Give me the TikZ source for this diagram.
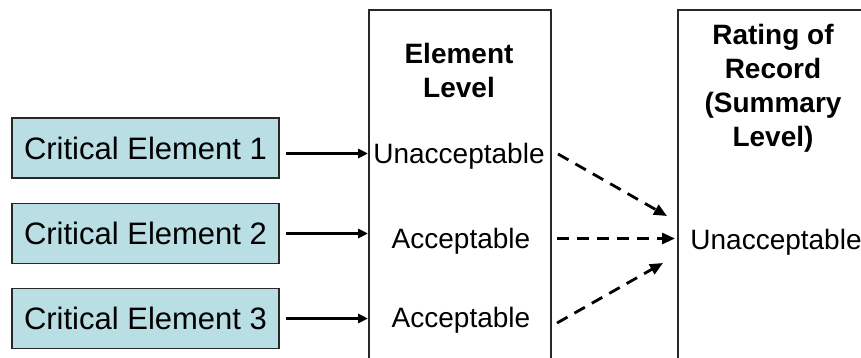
\documentclass[tikz,border=0pt]{standalone}
\usepackage{fontspec}
\setmainfont{Liberation Sans}
\usetikzlibrary{arrows.meta}
\definecolor{cefill}{RGB}{185,222,228}
\definecolor{edgegray}{RGB}{40,40,40}
\begin{document}
\begin{tikzpicture}[x=1pt,y=-1pt,
  cebox/.style={draw=edgegray, line width=1.6pt, fill=cefill, minimum width=267pt,
    minimum height=60pt, inner sep=0pt, font=\fontsize{31}{37}\selectfont},
  colbox/.style={draw=edgegray, line width=1.6pt, inner sep=0pt, anchor=north west},
  lbl/.style={inner sep=0pt, font=\fontsize{28}{34}\selectfont, anchor=base},
  ttl/.style={inner sep=0pt, font=\bfseries\fontsize{28}{34}\selectfont, anchor=north, align=center},
  solidarr/.style={-{Triangle[length=10pt,width=9pt]}, line width=2.6pt},
  dasharr/.style={-{Triangle[length=13pt,width=11pt]}, line width=2.8pt, dash pattern=on 12pt off 8pt}]
\path[use as bounding box, clip] (0,0) rectangle (861,358);
\fill[white] (0,0) rectangle (861,358);
% columns
\node[colbox, minimum width=182pt, minimum height=400pt] (elem) at (368,9) {};
\node[colbox, minimum width=250pt, minimum height=400pt] (rec) at (677,9) {};
% titles
\node[ttl] (elemttl) at (459,43) {Element\\Level};
\node[ttl] (recttl) at (773,24) {Rating of\\Record\\(Summary\\Level)};
% critical elements
\node[cebox] (ce1) at (145.5,148) {Critical Element 1};
\node[cebox] (ce2) at (145.5,233.5) {Critical Element 2};
\node[cebox] (ce3) at (145.5,318.5) {Critical Element 3};
% element level ratings
\node[lbl] (u1) at (459,164) {Unacceptable};
\node[lbl] (a2) at (461,248) {Acceptable};
\node[lbl] (a3) at (461,327) {Acceptable};
% summary rating
\node[lbl] (rr) at (776,249) {Unacceptable};
% solid arrows
\draw[solidarr] ([shift={(6,5.5)}]ce1.east) -- ([shift={(0,5.5)}]ce1.east -| elem.west);
\draw[solidarr] ([shift={(6,0)}]ce2.east) -- (ce2.east -| elem.west);
\draw[solidarr] ([shift={(6,0)}]ce3.east) -- (ce3.east -| elem.west);
% dashed arrows
\coordinate (sA) at (558,154);
\coordinate (eA) at (667,216);
\coordinate (sB) at (557,238.5);
\coordinate (eB) at (675,238.5);
\coordinate (sC) at (557,323);
\coordinate (eC) at (663,263);
\draw[dasharr] (sA) -- (eA);
\draw[dasharr] (sB) -- (eB);
\draw[dasharr] (sC) -- (eC);
\end{tikzpicture}
\end{document}
